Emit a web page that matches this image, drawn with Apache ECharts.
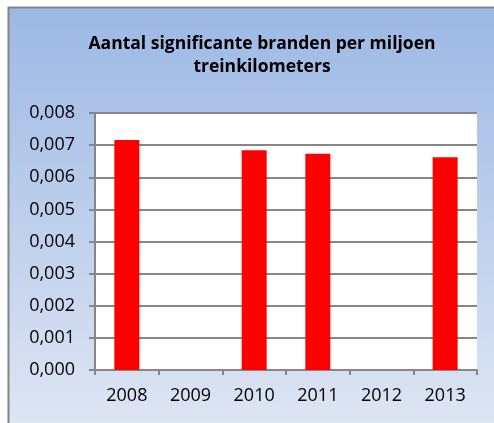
<!DOCTYPE html>
<html>
<head>
<meta charset="utf-8">
<script src="https://cdn.jsdelivr.net/npm/echarts@6/dist/echarts.min.js"></script>
<style>
  html, body { margin: 0; padding: 0; background: #fff; }
  #chart { width: 494px; height: 423px; }
</style>
</head>
<body>
<div id="chart"></div>
<script>
// jaren en waarden (aantal significante branden per miljoen treinkm)
let years = ['2008', '2009', '2010', '2011', '2012', '2013'];
let branden = [0.00716, 0, 0.00684, 0.00673, 0, 0.00662];

let titleText = 'Aantal significante branden per miljoen\ntreinkilometers';

let myChart = echarts.init(document.getElementById('chart'));

let option = {
    animation: false,
    backgroundColor: '#fff',
    graphic: [
        {
            type: 'rect',
            z: -10,
            shape: { x: 8.5, y: 7.5, width: 500, height: 430 },
            style: {
                fill: new echarts.graphic.LinearGradient(0, 0, 0, 1, [
                    { offset: 0, color: '#9cb8e4' },
                    { offset: 1, color: '#e0e7f4' }
                ]),
                stroke: '#868686',
                lineWidth: 2
            }
        }
    ],
    title: {
        text: titleText,
        left: 257,
        textAlign: 'center',
        top: 28,
        textStyle: {
            fontFamily: 'Open Sans',
            fontWeight: 'bold',
            fontSize: 17.5,
            lineHeight: 23,
            color: '#000'
        }
    },
    grid: {
        left: 95,
        right: 17,
        top: 113,
        bottom: 53,
        show: true,
        backgroundColor: '#fff',
        borderWidth: 0
    },
    xAxis: {
        type: 'category',
        data: years,
        boundaryGap: true,
        axisLine: { show: true, lineStyle: { color: '#868686', width: 2 } },
        axisTick: { show: true, length: 5, lineStyle: { color: '#868686', width: 2 } },
        axisLabel: {
            margin: 17,
            fontFamily: 'Open Sans',
            fontSize: 18,
            color: '#000'
        }
    },
    yAxis: {
        type: 'value',
        min: 0,
        max: 0.008,
        interval: 0.001,
        axisLine: { show: true, lineStyle: { color: '#868686', width: 2 } },
        axisTick: { show: true, length: 6, lineStyle: { color: '#868686', width: 2 } },
        splitLine: { show: true, lineStyle: { color: '#868686', width: 2 } },
        axisLabel: {
            margin: 20,
            fontFamily: 'Open Sans',
            fontSize: 18,
            color: '#000',
            formatter: function (v) {
                return v.toFixed(3).replace('.', ',');
            }
        }
    },
    series: [
        {
            name: 'Branden',
            type: 'bar',
            barWidth: 25,
            itemStyle: { color: '#ff0000' },
            data: branden
        }
    ]
};

myChart.setOption(option);
</script>
</body>
</html>
